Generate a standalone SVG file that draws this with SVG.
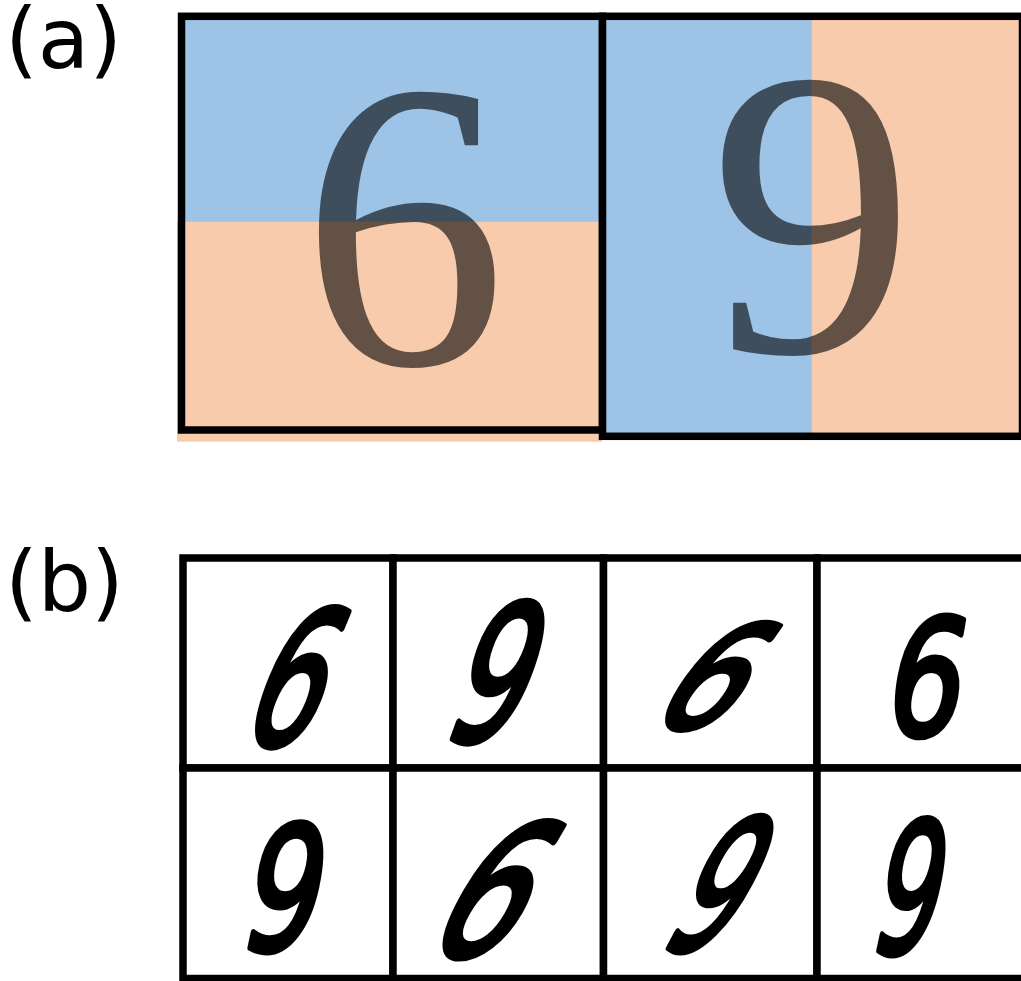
<svg xmlns="http://www.w3.org/2000/svg" width="1021" height="981" viewBox="0 0 1021 981">
<style>
.lbl{font-family:"DejaVu Sans",sans-serif;font-size:84px;fill:#000}
.big{font-family:"Liberation Serif",serif;font-size:411px;fill:#000;fill-opacity:0.6;text-anchor:middle}
.frame{fill:none;stroke:#000;stroke-width:7.5}
.cell{fill:#fff;stroke:#000;stroke-width:7.5}
.hw{font-family:"DejaVu Sans",sans-serif;font-weight:normal;fill:#000;stroke:#000;stroke-width:6;stroke-linejoin:round;text-anchor:middle}
.blue{fill:#9DC3E6}
.orange{fill:#F8CBAD}
</style>
<rect width="1021" height="981" fill="#fff"/>
<text class="lbl" x="5" y="68">(a)</text>
<text class="lbl" x="5" y="611">(b)</text>
<g id="panel-a-six">
<rect class="blue" x="181" y="16" width="421" height="206"/>
<rect class="orange" x="177" y="221.7" width="425" height="220"/>
<text class="big" x="404" y="364">6</text>
<rect class="frame" x="181.5" y="16.3" width="421" height="413.7"/>
</g>
<g id="panel-a-nine">
<rect class="blue" x="602" y="16" width="210" height="420"/>
<rect class="orange" x="811.7" y="16" width="210" height="420"/>
<text class="big" x="812" y="352">9</text>
<rect class="frame" x="602.5" y="16.3" width="420" height="420"/>
</g>
<g id="panel-b">
<g id="cell-1-1"><rect class="cell" x="183" y="558" width="210" height="210"/>
<text class="hw" font-size="186" transform="translate(272,745) skewX(-22) scale(0.62,1)">6</text></g>
<g id="cell-1-2"><rect class="cell" x="393" y="558" width="210.5" height="210"/>
<text class="hw" font-size="189" transform="translate(476,741) skewX(-20) scale(0.64,1)">9</text></g>
<g id="cell-1-3"><rect class="cell" x="603.5" y="558" width="213.5" height="210"/>
<text class="hw" font-size="142" transform="translate(683,728) skewX(-35) scale(0.88,1)">6</text></g>
<g id="cell-1-4"><rect class="cell" x="817" y="558" width="212" height="210"/>
<text class="hw" font-size="161" transform="translate(919,735) skewX(-10) scale(0.74,1)">6</text></g>
<g id="cell-2-1"><rect class="cell" x="183" y="768" width="210" height="210.5"/>
<text class="hw" font-size="172" transform="translate(274,950) skewX(-12) scale(0.7,1)">9</text></g>
<g id="cell-2-2"><rect class="cell" x="393" y="768" width="210.5" height="210.5"/>
<text class="hw" font-size="182" transform="translate(461,956) skewX(-30) scale(0.74,1)">6</text></g>
<g id="cell-2-3"><rect class="cell" x="603.5" y="768" width="213.5" height="210.5"/>
<text class="hw" font-size="181" transform="translate(689,950) skewX(-28) scale(0.6,1)">9</text></g>
<g id="cell-2-4"><rect class="cell" x="817" y="768" width="212" height="210.5"/>
<text class="hw" font-size="182" transform="translate(899,953) skewX(-12) scale(0.57,1)">9</text></g>
</g>
</svg>
